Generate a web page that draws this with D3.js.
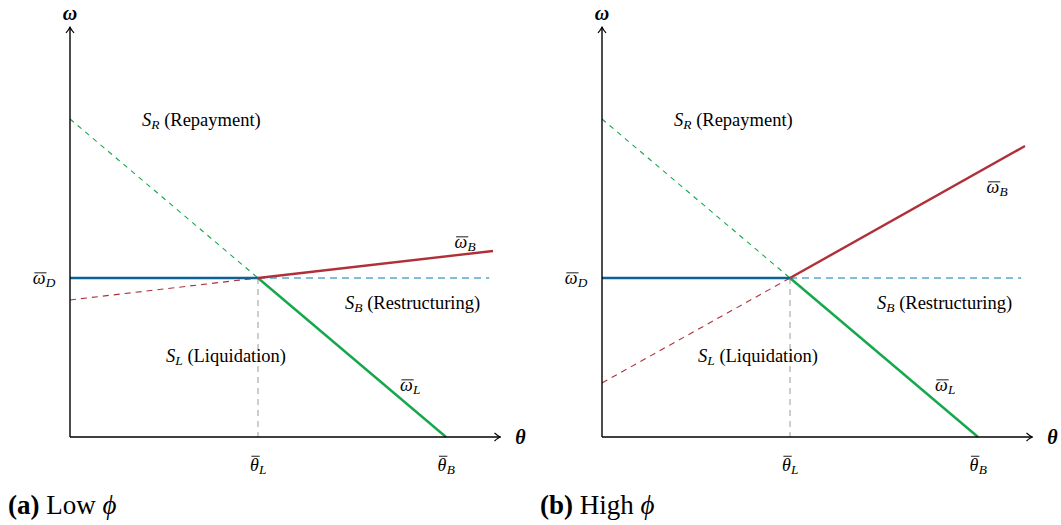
<!DOCTYPE html>
<html>
<head>
<meta charset="utf-8">
<script src="https://cdn.jsdelivr.net/npm/d3@7"></script>
<style>
  html, body { margin: 0; padding: 0; background: #fff; }
  svg { display: block; }
</style>
</head>
<body>
<svg id="chart" width="1061" height="525"></svg>
<script>
// Threshold diagram: liquidation / restructuring / repayment regions in (θ, ω) space
const panelIds = ["a", "b"];
const panelCaptions = ["Low", "High"];
const thetaTickValues = [1, 2];          // θ̄_L, θ̄_B
const thetaTickSubs = ["L", "B"];
const omegaD = 1;                          // ω̄_D level
const omegaLAtZero = 2;                    // ω̄_L intercept (falls to 0 at θ̄_B)
const omegaBAtZero = [0.862, 0.34];        // ω̄_B extended back to θ = 0
const omegaBAtEnd = [1.17, 1.83];          // ω̄_B at θ = thetaLineEnd
const thetaLineEnd = 2.25;
const thetaDashEnd = 2.23;
const thetaAxisMax = 2.29;
const omegaAxisMax = 2.58;

const colors = {
  blue: "#0c6196", blueLight: "#5ba6cb",
  green: "#14a84b", red: "#b0303a", gray: "#9a9a9a"
};
const FONT = '"Liberation Serif", "Times New Roman", serif';

const svg = d3.select("#chart");
const defs = svg.append("defs");
defs.append("marker")
  .attr("id", "arrow").attr("viewBox", "-10 -6 12 12")
  .attr("refX", 0).attr("refY", 0)
  .attr("markerWidth", 12).attr("markerHeight", 12)
  .attr("markerUnits", "userSpaceOnUse").attr("orient", "auto")
  .append("path")
  .attr("d", "M-6,-4 Q-2,-0.5 0,0 Q-2,0.5 -6,4")
  .attr("fill", "none").attr("stroke", "#000").attr("stroke-width", 1.2);

const layout = [
  { x0: 70, labels: { wL: 340, wLy: 391, wB: 395, wBy: 248 } },
  { x0: 602, labels: { wL: 343, wLy: 391, wB: 395, wBy: 193 } }
];
const yAxisBase = 437;

function txt(sel) {
  return sel.append("text").style("font-family", FONT);
}

panelIds.forEach((id, i) => {
  const x0 = layout[i].x0;
  const x = d3.scaleLinear().domain([0, 1]).range([x0, x0 + 188]);
  const y = d3.scaleLinear().domain([0, 1]).range([yAxisBase, yAxisBase - 159]);
  const g = svg.append("g").attr("class", "panel-" + id);
  const line = d3.line().x(d => x(d[0])).y(d => y(d[1]));

  const segs = [
    { pts: [[thetaTickValues[0], omegaD], [thetaTickValues[0], 0]], color: colors.gray, w: 1, dash: "6,5" },
    { pts: [[0, omegaLAtZero], [thetaTickValues[0], omegaD]], color: colors.green, w: 1.1, dash: "5,5" },
    { pts: [[0, omegaBAtZero[i]], [thetaTickValues[0], omegaD]], color: colors.red, w: 1.1, dash: "6,5" },
    { pts: [[thetaTickValues[0], omegaD], [thetaDashEnd, omegaD]], color: colors.blueLight, w: 1.3, dash: "7,5" },
    { pts: [[0, omegaD], [thetaTickValues[0], omegaD]], color: colors.blue, w: 2.4, dash: null },
    { pts: [[thetaTickValues[0], omegaD], [thetaTickValues[1], 0]], color: colors.green, w: 2.4, dash: null },
    { pts: [[thetaTickValues[0], omegaD], [thetaLineEnd, omegaBAtEnd[i]]], color: colors.red, w: 2.4, dash: null }
  ];
  segs.forEach(s => {
    g.append("path").attr("d", line(s.pts))
      .attr("fill", "none").attr("stroke", s.color)
      .attr("stroke-width", s.w)
      .attr("stroke-dasharray", s.dash);
  });

  // axes
  g.append("line").attr("x1", x(0)).attr("y1", y(0)).attr("x2", x(thetaAxisMax)).attr("y2", y(0))
    .attr("stroke", "#000").attr("stroke-width", 1.4).attr("marker-end", "url(#arrow)");
  g.append("line").attr("x1", x(0)).attr("y1", y(0)).attr("x2", x(0)).attr("y2", y(omegaAxisMax))
    .attr("stroke", "#000").attr("stroke-width", 1.4).attr("marker-end", "url(#arrow)");

  txt(g).attr("x", x(thetaAxisMax) + 20).attr("y", y(0) + 7)
    .attr("text-anchor", "middle").attr("font-size", 20).attr("font-weight", "bold")
    .attr("font-style", "italic").text("θ");
  txt(g).attr("x", x(0)).attr("y", 20)
    .attr("text-anchor", "middle").attr("font-size", 20).attr("font-weight", "bold")
    .attr("font-style", "italic").text("ω");

  // symbol with an overbar and a subscript, centred on cx
  function barSym(sym, sub, cx, by, size) {
    const grp = g.append("g");
    const main = txt(grp).attr("x", 0).attr("y", by)
      .attr("font-size", size).attr("font-style", "italic").text(sym);
    const w = main.node().getComputedTextLength();
    const s = txt(grp).attr("x", w + 0.3).attr("y", by + size * 0.17)
      .attr("font-size", size * 0.74).attr("font-style", "italic").text(sub);
    const ws = s.node().getComputedTextLength();
    const top = by - size * (sym === "θ" ? 0.82 : 0.62);
    grp.append("line").attr("x1", 1.5).attr("x2", w + 1).attr("y1", top).attr("y2", top)
      .attr("stroke", "#000").attr("stroke-width", 0.9);
    grp.attr("transform", `translate(${cx - (w + ws) / 2},0)`);
  }

  thetaTickValues.forEach((v, k) => barSym("θ", thetaTickSubs[k], x(v), 471, 18));
  barSym("ω", "D", x0 - 26, 284, 18);
  barSym("ω", "L", x0 + layout[i].labels.wL, layout[i].labels.wLy, 18);
  barSym("ω", "B", x0 + layout[i].labels.wB, layout[i].labels.wBy, 18);

  // region labels
  function region(sub, word, lx, ly) {
    const t = txt(g).attr("x", lx).attr("y", ly).attr("font-size", 18.5);
    t.append("tspan").attr("font-style", "italic").text("S");
    t.append("tspan").attr("font-style", "italic").attr("font-size", 13.5).attr("dy", 3).text(sub);
    t.append("tspan").attr("dy", -3).text(" (" + word + ")");
  }
  region("R", "Repayment", x0 + 72, 126);
  region("B", "Restructuring", x0 + 275, 309);
  region("L", "Liquidation", x0 + 96, 362);

  // caption
  const c = txt(svg).attr("x", x0 - 62).attr("y", 514).attr("font-size", 27);
  c.append("tspan").attr("font-weight", "bold").text("(" + id + ")");
  c.append("tspan").text(" " + panelCaptions[i] + " ");
  c.append("tspan").attr("font-style", "italic").text("ϕ");
});
</script>
</body>
</html>
